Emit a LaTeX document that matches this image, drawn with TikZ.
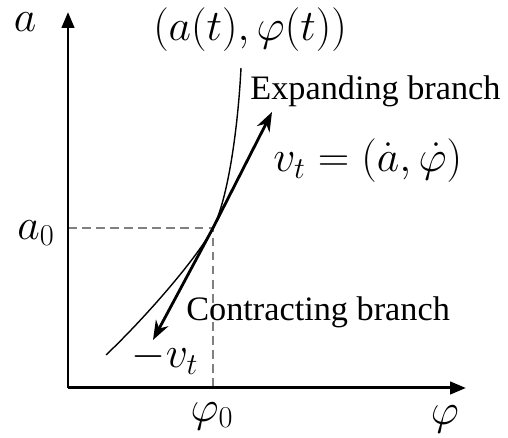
\documentclass[tikz,border=0pt]{standalone}
\usepackage{fontspec}
\setmainfont{Liberation Serif}
\usetikzlibrary{arrows.meta}
\begin{document}
\begin{tikzpicture}[
    x=0.02cm, y=0.02cm,
    axis/.style={line width=1.7pt, -{Triangle[length=9pt,width=7pt]}},
    vec/.style={line width=1.6pt, -{Stealth[length=11pt,width=8pt]}},
    guide/.style={gray, line width=1pt, dash pattern=on 5pt off 3pt},
    branch/.style={line width=0.8pt},
    mathlbl/.style={font=\fontsize{26}{30}\selectfont, inner sep=0pt},
    txtlbl/.style={font=\fontsize{19.5}{23}\selectfont, inner sep=0pt}
]
\useasboundingbox (0,0) rectangle (508,438);
\coordinate (o) at (68,50);
\coordinate (ytip) at (68,426);
\coordinate (xtip) at (466,50);
\coordinate (p) at (213,210);
\coordinate (px) at (213,50);
\coordinate (py) at (68,210);
\coordinate (vtip) at (272,326);
\coordinate (mvtip) at (153,98);
\coordinate (cstart) at (106,83);
\coordinate (cend) at (241,370);

\draw[guide] (py) -- (p) -- (px);
\draw[axis] (o) -- (ytip);
\draw[axis] (o) -- (xtip);
\draw[branch] (cstart) .. controls (146,121) and (198,181) .. (p)
    .. controls (228,239) and (238,310) .. (cend);
\draw[vec] (p) -- (vtip);
\draw[vec] (p) -- (mvtip);

\node[mathlbl] (alab) at (25,416) {$a$};
\node[mathlbl] (curve) at (250,408) {$(a(t),\varphi(t))$};
\node[txtlbl, anchor=west] (exp) at (250,347) {Expanding branch};
\node[mathlbl, anchor=west] (vt) at (273,277) {$v_t=(\dot a,\dot\varphi)$};
\node[mathlbl] (a0) at (36,205) {$a_0$};
\node[txtlbl, anchor=west] (con) at (186,126) {Contracting branch};
\node[mathlbl] (mvt) at (165,80) {$-v_t$};
\node[mathlbl] (phi0) at (212,22) {$\varphi_0$};
\node[mathlbl] (phi) at (445,19) {$\varphi$};
\end{tikzpicture}
\end{document}
